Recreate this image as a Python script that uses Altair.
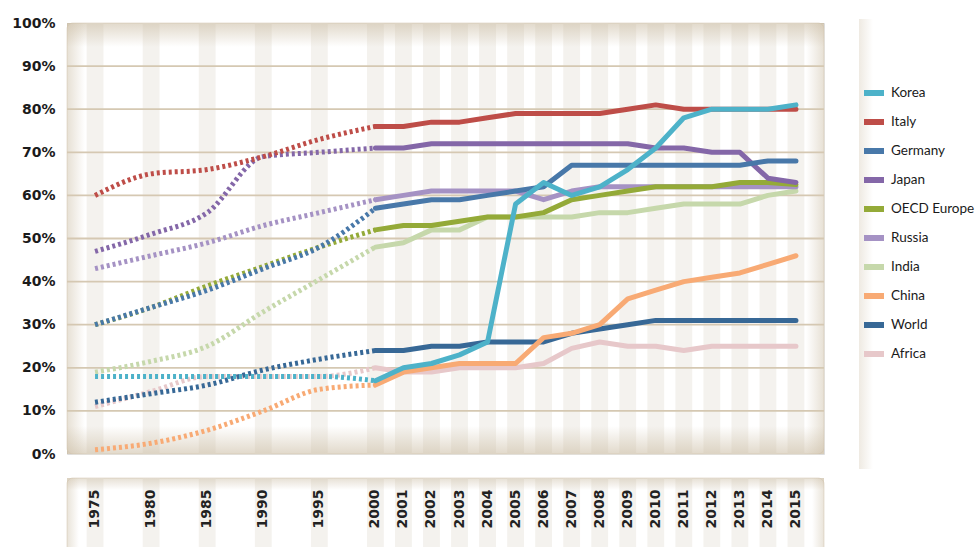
import altair as alt
import pandas as pd

# ---------------- data ----------------
years = [1975, 1980, 1985, 1990, 1995, 2000, 2001, 2002, 2003, 2004, 2005,
         2006, 2007, 2008, 2009, 2010, 2011, 2012, 2013, 2014, 2015]

series_names = ["Korea", "Italy", "Germany", "Japan", "OECD Europe",
                "Russia", "India", "China", "World", "Africa"]
series_colors = ["#4db2c9", "#be4d48", "#4878a9", "#8467a8", "#94aa38",
                 "#a592c4", "#c6d8ab", "#f8aa74", "#376896", "#e7c8ca"]

korea   = [18, 18, 18, 18, 18, 17, 20, 21, 23, 26, 58, 63, 60, 62, 66, 71, 78, 80, 80, 80, 81]
italy   = [60, 65, 66, 69, 73, 76, 76, 77, 77, 78, 79, 79, 79, 79, 80, 81, 80, 80, 80, 80, 80]
germany = [30, 34, 38, 43, 48, 57, 58, 59, 59, 60, 61, 62, 67, 67, 67, 67, 67, 67, 67, 68, 68]
japan   = [47, 51, 56, 69, 70, 71, 71, 72, 72, 72, 72, 72, 72, 72, 72, 71, 71, 70, 70, 64, 63]
oecd    = [30, 34, 39, 43.5, 48, 52, 53, 53, 54, 55, 55, 56, 59, 60, 61, 62, 62, 62, 63, 63, 62.5]
russia  = [43, 46, 49, 53, 56, 59, 60, 61, 61, 61, 61, 59, 61, 62, 62, 62, 62, 62, 62, 62, 62]
india   = [19, 21.5, 25, 33, 40.5, 48, 49, 52, 52, 55, 55, 55, 55, 56, 56, 57, 58, 58, 58, 60, 61]
china   = [1, 2.5, 5.5, 10, 15, 16, 19, 20, 21, 21, 21, 27, 28, 30, 36, 38, 40, 41, 42, 44, 46]
world   = [12, 14, 16, 19.5, 22, 24, 24, 25, 25, 26, 26, 26, 28, 29, 30, 31, 31, 31, 31, 31, 31]
africa  = [11, 14.5, 18, 18, 18, 20, 19, 19, 20, 20, 20, 21, 24.5, 26, 25, 25, 24, 25, 25, 25, 25]

y_ticks = [0, 0.1, 0.2, 0.3, 0.4, 0.5, 0.6, 0.7, 0.8, 0.9, 1.0]
grid_ticks = [0.1, 0.2, 0.3, 0.4, 0.5, 0.6, 0.7, 0.8, 0.9]

series_values = [korea, italy, germany, japan, oecd, russia, india, china, world, africa]

# ---------------- layout ----------------
W, H = 757, 431
PAD = {"left": 67, "top": 23, "right": 979 - 67 - W, "bottom": 547 - 23 - H}


def slot_of(y):
    # 5-year steps before 2000 take two slots, yearly steps after take one
    return (y - 1975) / 2.5 if y <= 2000 else y - 1990


rows = []
# reverse order so Korea is drawn last (on top)
for name, vals in reversed(list(zip(series_names, series_values))):
    for yr, v in zip(years, vals):
        rows.append({"series": name, "year": yr, "slot": slot_of(yr),
                     "value": v / 100.0,
                     "hist": yr <= 2000, "recent": yr >= 2000})
df = pd.DataFrame(rows)

slots_df = pd.DataFrame({"year": years, "slot": [slot_of(y) for y in years],
                         "label": [str(y) for y in years]})
grid_df = pd.DataFrame({"v": grid_ticks})
one = pd.DataFrame({"a": [0]})

xscale = alt.Scale(domain=[-1, 26], nice=False, zero=False)
yscale = alt.Scale(domain=[0, 1], nice=False, zero=True)

X = alt.X("slot:Q", scale=xscale, axis=None)
Y_axis = alt.Axis(values=y_ticks, format=".0%", grid=False, domain=False,
                  ticks=False, labelPadding=12, labelFont="DejaVu Sans",
                  labelFontWeight="bold", labelFontSize=14, labelColor="#1b1b1b",
                  title=None)


def grad(vertical, dark_first, alpha):
    dark = f"rgba(201,186,160,{alpha})"
    clear = "rgba(201,186,160,0)"
    stops = [alt.GradientStop(color=dark, offset=0), alt.GradientStop(color=clear, offset=1)]
    if not dark_first:
        stops = [alt.GradientStop(color=clear, offset=0), alt.GradientStop(color=dark, offset=1)]
    if vertical:
        return alt.LinearGradient(gradient="linear", stops=stops, x1=0, x2=0, y1=0, y2=1)
    return alt.LinearGradient(gradient="linear", stops=stops, x1=0, x2=1, y1=0, y2=0)


STRIPE = "#f4f2ee"

# panel background
panel = alt.Chart(one).mark_rect(color="white", cornerRadius=6, stroke="#e8e1d6",
                                 strokeWidth=1).encode(
    x=alt.value(0), x2=alt.value(W), y=alt.value(0), y2=alt.value(H))

stripes = alt.Chart(slots_df).mark_rect(color=STRIPE).transform_calculate(
    x0="datum.slot - 0.3", x1="datum.slot + 0.3").encode(
    x=alt.X("x0:Q", scale=xscale, axis=None), x2="x1:Q",
    y=alt.value(0), y2=alt.value(H))

vig_top = alt.Chart(one).mark_rect(color=grad(True, True, 0.55)).encode(
    x=alt.value(0), x2=alt.value(W), y=alt.value(0), y2=alt.value(24))
vig_bot = alt.Chart(one).mark_rect(color=grad(True, False, 0.55)).encode(
    x=alt.value(0), x2=alt.value(W), y=alt.value(H - 28), y2=alt.value(H))
vig_left = alt.Chart(one).mark_rect(color=grad(False, True, 0.45)).encode(
    x=alt.value(0), x2=alt.value(18), y=alt.value(0), y2=alt.value(H))
vig_right = alt.Chart(one).mark_rect(color=grad(False, False, 0.45)).encode(
    x=alt.value(W - 18), x2=alt.value(W), y=alt.value(0), y2=alt.value(H))

grid = alt.Chart(grid_df).mark_rule(color="#d5c8b2", strokeWidth=1.8).encode(
    y=alt.Y("v:Q", scale=yscale, axis=Y_axis), x=alt.value(0), x2=alt.value(W))

legend = alt.Legend(title=None, orient="none", legendX=794, legendY=57,
                    symbolType="stroke", symbolStrokeWidth=6, symbolSize=400,
                    labelFont="Lato", labelFontSize=13.5, labelColor="#1a1a1a",
                    labelOffset=4, rowPadding=4, padding=0, labelLimit=200)
color = alt.Color("series:N", scale=alt.Scale(domain=series_names, range=series_colors),
                  legend=legend, sort=series_names)

hist = alt.Chart(df).transform_filter("datum.hist").mark_line(
    strokeWidth=5, strokeDash=[3, 3], interpolate="monotone").encode(
    x=X, y=alt.Y("value:Q", scale=yscale, axis=Y_axis), color=color,
    detail="series:N", order="slot:Q")

recent = alt.Chart(df).transform_filter("datum.recent").mark_line(
    strokeWidth=5, strokeCap="round", strokeJoin="round").encode(
    x=X, y=alt.Y("value:Q", scale=yscale, axis=Y_axis), color=color,
    detail="series:N", order="slot:Q")

# year-label box below the panel
BOX_TOP = H + 24
box = alt.Chart(one).mark_rect(color="white", cornerRadius=6, stroke="#e8e1d6",
                               strokeWidth=1).encode(
    x=alt.value(0), x2=alt.value(W), y=alt.value(BOX_TOP), y2=alt.value(BOX_TOP + 90))
box_stripes = alt.Chart(slots_df).mark_rect(color=STRIPE).transform_calculate(
    x0="datum.slot - 0.3", x1="datum.slot + 0.3").encode(
    x=alt.X("x0:Q", scale=xscale, axis=None), x2="x1:Q",
    y=alt.value(BOX_TOP), y2=alt.value(BOX_TOP + 90))
box_top = alt.Chart(one).mark_rect(color=grad(True, True, 0.45)).encode(
    x=alt.value(0), x2=alt.value(W), y=alt.value(BOX_TOP), y2=alt.value(BOX_TOP + 12))
box_left = alt.Chart(one).mark_rect(color=grad(False, True, 0.4)).encode(
    x=alt.value(0), x2=alt.value(12), y=alt.value(BOX_TOP), y2=alt.value(BOX_TOP + 90))
box_right = alt.Chart(one).mark_rect(color=grad(False, False, 0.4)).encode(
    x=alt.value(W - 12), x2=alt.value(W), y=alt.value(BOX_TOP), y2=alt.value(BOX_TOP + 90))
year_text = alt.Chart(slots_df).mark_text(
    angle=270, align="center", baseline="middle", font="DejaVu Sans",
    fontSize=14, fontWeight="bold", color="#222222").encode(
    x=X, y=alt.value(BOX_TOP + 31), text="label:N")

# soft shadow at the left edge of the legend area
leg_shadow = alt.Chart(one).mark_rect(color=grad(False, True, 0.3)).encode(
    x=alt.value(792), x2=alt.value(806), y=alt.value(-4), y2=alt.value(446))

chart = alt.layer(
    panel, stripes, vig_top, vig_bot, vig_left, vig_right, grid,
    box, box_stripes, box_top, box_left, box_right, year_text, leg_shadow,
    hist, recent
).properties(
    width=W, height=H,
    autosize=alt.AutoSizeParams(type="none"),
    padding=PAD,
).configure_view(stroke=None).configure(background="white")

chart.save("out.html", embed_options={"renderer": "svg", "actions": False})
